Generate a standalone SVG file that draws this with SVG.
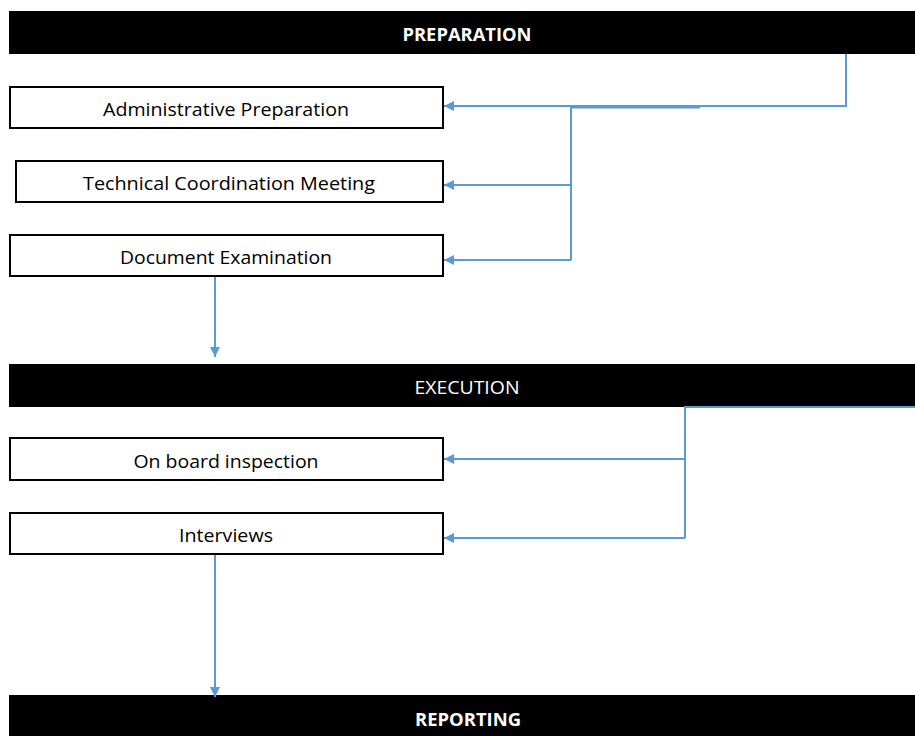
<svg xmlns="http://www.w3.org/2000/svg" width="915" height="736" viewBox="0 0 915 736">
  <defs>
    <marker id="arrow" viewBox="0 0 10 10" refX="10" refY="5" markerWidth="10" markerHeight="10" markerUnits="userSpaceOnUse" orient="auto">
      <path d="M0,0 L10,5 L0,10 Z" fill="#5B9BD5"/>
    </marker>
    <style>
      .bar { fill: #000000; }
      .bar-label { fill: #ffffff; font-family: "Open Sans", "Liberation Sans", sans-serif; font-size: 18.5px; text-anchor: middle; }
      .bold { font-weight: bold; }
      .box { fill: #ffffff; stroke: #000000; stroke-width: 2; }
      .box-label { fill: #000000; font-family: "Open Sans", "Liberation Sans", sans-serif; font-size: 18.5px; text-anchor: middle; }
      .link { fill: none; stroke: #5B9BD5; stroke-width: 2; }
      .arrowed { marker-end: url(#arrow); }
    </style>
  </defs>
  <rect width="915" height="736" fill="#ffffff"/>

  <!-- phase bars -->
  <g id="preparation">
    <rect class="bar" x="9" y="11" width="906" height="43"/>
    <text class="bar-label bold" x="467" y="41" textLength="129" lengthAdjust="spacingAndGlyphs">PREPARATION</text>
  </g>
  <g id="execution">
    <rect class="bar" x="9" y="364" width="906" height="43"/>
    <text class="bar-label" x="467" y="394" textLength="105" lengthAdjust="spacingAndGlyphs">EXECUTION</text>
  </g>
  <g id="reporting">
    <rect class="bar" x="9" y="695" width="906" height="41"/>
    <text class="bar-label bold" x="468" y="726" textLength="106" lengthAdjust="spacingAndGlyphs">REPORTING</text>
  </g>

  <!-- activity boxes -->
  <g id="administrative-preparation">
    <rect class="box" x="10" y="87" width="433" height="41"/>
    <text class="box-label" x="226" y="116" textLength="246" lengthAdjust="spacingAndGlyphs">Administrative Preparation</text>
  </g>
  <g id="technical-coordination-meeting">
    <rect class="box" x="16" y="161" width="427" height="41"/>
    <text class="box-label" x="229" y="190" textLength="292" lengthAdjust="spacingAndGlyphs">Technical Coordination Meeting</text>
  </g>
  <g id="document-examination">
    <rect class="box" x="10" y="235" width="433" height="41"/>
    <text class="box-label" x="226" y="264" textLength="212" lengthAdjust="spacingAndGlyphs">Document Examination</text>
  </g>
  <g id="on-board-inspection">
    <rect class="box" x="10" y="438" width="433" height="42"/>
    <text class="box-label" x="226" y="468" textLength="185" lengthAdjust="spacingAndGlyphs">On board inspection</text>
  </g>
  <g id="interviews">
    <rect class="box" x="10" y="513" width="433" height="41"/>
    <text class="box-label" x="226" y="542" textLength="94" lengthAdjust="spacingAndGlyphs">Interviews</text>
  </g>

  <!-- connectors -->
  <g id="connectors">
    <path class="link arrowed" d="M846,54 V106 H444"/>
    <path class="link" d="M570,107.5 H700" stroke-width="3"/>
    <path class="link" d="M571,107 V260" stroke-width="2.5"/>
    <path class="link arrowed" d="M571,185 H444"/>
    <path class="link arrowed" d="M571,260 H444"/>
    <path class="link arrowed" d="M215,277 V357"/>

    <path class="link" d="M915,407 H685 V538"/>
    <path class="link arrowed" d="M685,459 H444"/>
    <path class="link arrowed" d="M685,538 H444"/>
    <path class="link arrowed" d="M215,555 V697"/>
  </g>
</svg>
